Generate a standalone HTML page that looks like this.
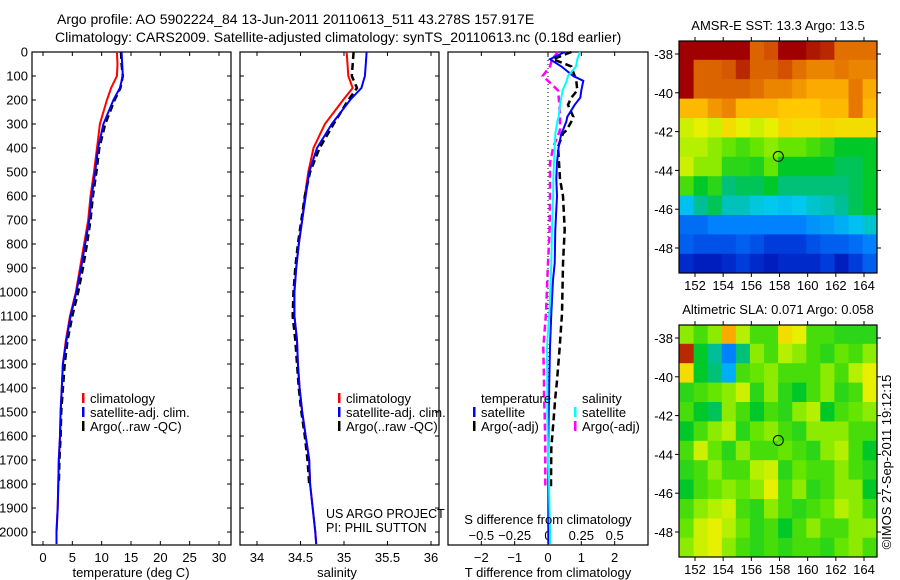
<!DOCTYPE html>
<html><head><meta charset="utf-8">
<style>
html,body{margin:0;padding:0;background:#fff;}
svg{display:block;font-family:"Liberation Sans",sans-serif;}
text{fill:#000;}
</style></head>
<body>
<svg id="fig" width="900" height="580" viewBox="0 0 900 580">
<text x="57" y="24" font-size="14">Argo profile: AO 5902224_84 13-Jun-2011 20110613_511 43.278S 157.917E</text>
<text x="55" y="42" font-size="14">Climatology: CARS2009. Satellite-adjusted climatology: synTS_20110613.nc (0.18d earlier)</text>
</svg>
<script>
// ---------------- data ----------------
const depths = [0,50,100,150,200,300,400,500,600,700,800,900,1000,1100,1200,1300,1400,1500,1600,1700,1800,1900,2000,2050];
const tempClim = [12.6,12.7,12.6,11.6,10.9,9.7,9.2,8.7,8.1,7.7,7.0,6.3,5.6,4.6,3.9,3.4,3.2,3.0,2.9,2.7,2.6,2.5,2.3,2.3];
const tempSat  = [13.4,13.5,13.6,13.1,12.0,10.3,9.4,8.9,8.3,7.9,7.2,6.5,5.7,4.7,4.0,3.4,3.2,3.0,2.9,2.7,2.6,2.5,2.3,2.3];
const tempArgo = [13.3,13.4,13.6,13.2,12.2,10.6,9.6,9.1,8.5,8.1,7.5,6.8,6.0,5.0,4.2,3.7,3.4,3.1,3.0,2.8,2.7];
const salClim = [35.03,35.04,35.05,35.10,34.99,34.78,34.65,34.59,34.55,34.52,34.48,34.45,34.43,34.43,34.46,34.47,34.49,34.52,34.56,34.60,34.61,34.64,34.67,34.68];
const salSat  = [35.26,35.25,35.24,35.20,35.07,34.86,34.69,34.60,34.56,34.52,34.48,34.45,34.43,34.43,34.46,34.47,34.49,34.52,34.56,34.60,34.61,34.64,34.67,34.68];
const salArgo = [35.11,35.10,35.09,35.15,35.05,34.88,34.72,34.61,34.55,34.51,34.47,34.44,34.42,34.41,34.44,34.46,34.48,34.51,34.55,34.58,34.60];
const diffDepths = [0,30,60,100,120,160,190,220,270,290,325,340,395,460,530,600,740,880,950,1090,1230,1370,1440,1510,1650,1790,1820,2000,2050];
const dTsat  = [0.50,0.06,0.40,0.76,1.06,1.00,0.97,0.80,0.58,0.55,0.45,0.40,0.32,0.27,0.25,0.27,0.22,0.20,0.15,0.10,0.06,0.04,0.03,0.02,0.01,0.01,0.01,0.01,0.01];
const dSsat  = [0.24,0.22,0.21,0.15,0.14,0.11,0.10,0.09,0.08,0.07,0.06,0.055,0.05,0.045,0.04,0.038,0.03,0.025,0.02,0.01,-0.008,-0.006,-0.005,-0.005,0.0,0.008,0.008,0.015,0.015];
const dTargo = [0.70,0.15,0.70,0.80,0.85,0.88,0.70,0.60,0.76,0.70,0.56,0.45,0.30,0.33,0.36,0.45,0.50,0.45,0.44,0.42,0.35,0.27,0.22,0.18,0.10,0.09,0.09];
const dSargo = [0.075,0.03,0.015,-0.04,0.0,0.075,0.08,0.085,0.09,0.09,0.09,0.08,0.04,0.015,0.015,0.015,0.012,0.0,-0.005,-0.015,-0.035,-0.03,-0.03,-0.025,-0.02,-0.02,-0.02];
const tempTicks = [0,5,10,15,20,25,30];
const salTicks = [34,34.5,35,35.5,36];
const depthTicks = [0,100,200,300,400,500,600,700,800,900,1000,1100,1200,1300,1400,1500,1600,1700,1800,1900,2000];
const tTicks = [-2,-1,0,1,2];
const sTicks = [-0.5,-0.25,0,0.25,0.5];
const sTickLabels = ["\u22120.5","\u22120.25","0","0.25","0.5"];
const tTickLabels = ["\u22122","\u22121","0","1","2"];
const lonTicks = [152,154,156,158,160,162,164];
const latTicks = [-38,-40,-42,-44,-46,-48];
const argoLon = 157.917, argoLat = -43.278;
const mapLons = [151,152,153,154,155,156,157,158,159,160,161,162,163,164];
const mapLats = [-37.3,-38.3,-39.3,-40.3,-41.3,-42.3,-43.3,-44.3,-45.3,-46.3,-47.3,-48.3];
const sstGrid = [
[1,1,1,1,1,0.85,0.9,1,1,0.97,0.95,0.82,0.82,0.82],
[1,0.85,0.85,0.88,0.95,0.85,0.85,0.9,0.82,0.78,0.78,0.8,0.78,0.78],
[1,0.85,0.85,0.85,0.85,0.82,0.78,0.78,0.75,0.72,0.72,0.72,0.8,0.72],
[0.7,0.7,0.75,0.78,0.7,0.7,0.7,0.68,0.68,0.68,0.7,0.7,0.8,0.7],
[0.6,0.62,0.6,0.65,0.62,0.6,0.62,0.66,0.65,0.65,0.66,0.65,0.65,0.65],
[0.58,0.58,0.55,0.52,0.5,0.52,0.55,0.52,0.52,0.5,0.48,0.45,0.45,0.45],
[0.6,0.55,0.55,0.48,0.48,0.47,0.52,0.45,0.45,0.45,0.45,0.42,0.42,0.45],
[0.5,0.45,0.48,0.4,0.42,0.42,0.45,0.4,0.4,0.4,0.4,0.4,0.42,0.45],
[0.32,0.38,0.42,0.36,0.36,0.34,0.33,0.32,0.33,0.35,0.36,0.38,0.42,0.45],
[0.22,0.22,0.25,0.25,0.25,0.25,0.25,0.25,0.25,0.27,0.28,0.3,0.32,0.35],
[0.2,0.18,0.18,0.18,0.2,0.18,0.15,0.15,0.15,0.18,0.2,0.2,0.22,0.25],
[0.12,0.1,0.1,0.12,0.15,0.12,0.1,0.12,0.12,0.12,0.15,0.1,0.15,0.2]];
const slaGrid = [
[0.55,0.5,0.55,0.72,0.58,0.5,0.5,0.65,0.62,0.5,0.5,0.48,0.48,0.48],
[0.95,0.45,0.38,0.25,0.4,0.55,0.5,0.58,0.55,0.5,0.48,0.52,0.5,0.55],
[0.65,0.45,0.4,0.3,0.5,0.52,0.55,0.5,0.5,0.5,0.55,0.5,0.58,0.62],
[0.48,0.5,0.52,0.55,0.6,0.48,0.55,0.48,0.45,0.5,0.55,0.48,0.5,0.62],
[0.5,0.45,0.42,0.55,0.5,0.45,0.5,0.48,0.55,0.58,0.45,0.5,0.52,0.55],
[0.45,0.5,0.55,0.58,0.48,0.52,0.55,0.5,0.48,0.55,0.55,0.55,0.5,0.5],
[0.5,0.6,0.52,0.48,0.55,0.5,0.5,0.52,0.5,0.48,0.55,0.58,0.5,0.45],
[0.48,0.5,0.55,0.5,0.5,0.58,0.6,0.48,0.52,0.5,0.5,0.55,0.5,0.48],
[0.45,0.5,0.52,0.55,0.52,0.55,0.62,0.5,0.55,0.48,0.5,0.55,0.55,0.45],
[0.5,0.55,0.58,0.6,0.5,0.48,0.55,0.5,0.48,0.5,0.52,0.58,0.55,0.5],
[0.52,0.6,0.62,0.58,0.52,0.48,0.5,0.45,0.5,0.55,0.5,0.5,0.55,0.55],
[0.55,0.6,0.62,0.55,0.5,0.48,0.5,0.48,0.5,0.5,0.48,0.52,0.55,0.5]];

// ---------------- helpers ----------------
const NS = "http://www.w3.org/2000/svg";
const svg = document.getElementById("fig");
function mk(tag, attrs, parent){ const e=document.createElementNS(NS,tag); for(const k in attrs) e.setAttribute(k,attrs[k]); (parent||svg).appendChild(e); return e; }
function txt(x,y,s,size,anchor,parent){ const t=mk("text",{x:x,y:y,"font-size":size,"text-anchor":anchor||"start"},parent); t.textContent=s; return t; }
function lin(d0,d1,p0,p1){ return v=>p0+(v-d0)*(p1-p0)/(d1-d0); }

const pTop=52, pBot=545;
const yD = lin(0,2054,pTop,pBot);

function frame(x0,x1,name){
  const g=mk("g",{});
  
  
  mk("rect",{x:x0,y:pTop,width:x1-x0,height:pBot-pTop,fill:"#fff",stroke:"#000","stroke-width":1.2},g);
  return g;
}
function depthTicksOn(g,x0,x1,labels){
  depthTicks.forEach(d=>{ const y=yD(d);
    mk("line",{x1:x0,y1:y,x2:x0+4,y2:y,stroke:"#000"},g);
    mk("line",{x1:x1,y1:y,x2:x1-4,y2:y,stroke:"#000"},g);
    if(labels){ const t=txt(x0-4,y+4.5,String(d),13,"end",g);
        }
  });
}
function path(g,xs,ys,xf,color,w,dash,name){
  let d=""; xs.forEach((v,i)=>{ d+=(i?"L":"M")+xf(v).toFixed(1)+","+yD(ys[i]).toFixed(1); });
  const p=mk("path",{d:d,fill:"none",stroke:color,"stroke-width":w,"stroke-dasharray":dash||"none"},g);
  
  
  return p;
}
function legend(g,x,y,color,label,name){
  mk("rect",{x:x,y:y-10,width:2.5,height:10,fill:color},g);
  const t=txt(x+8,y,label,13,"start",g);
  
  
}

// ---------------- panel 1: temperature ----------------
const xT = lin(0,30,43,219);
const g1 = frame(32,231,"temperature-panel");
depthTicksOn(g1,32,231,true);
tempTicks.forEach(v=>{ const x=xT(v);
  mk("line",{x1:x,y1:pTop,x2:x,y2:pTop+4,stroke:"#000"},g1);
  mk("line",{x1:x,y1:pBot,x2:x,y2:pBot-4,stroke:"#000"},g1);
  const t=txt(x,562,String(v),13,"middle",g1);  
});
path(g1,tempClim,depths,xT,"#f00",2,null,"temp-climatology-line");
path(g1,tempArgo,depths.slice(0,tempArgo.length),xT,"#000",2.5,"7 4","temp-argo-line");
path(g1,tempSat,depths,xT,"#00f",2,null,"temp-satellite-line");
legend(g1,82,403,"#f00","climatology","legend-climatology");
legend(g1,82,417,"#00f","satellite-adj. clim.","legend-satellite");
legend(g1,82,431,"#000","Argo(..raw -QC)","legend-argo");
{const t=txt(131,577,"temperature (deg C)",13,"middle",g1);  }

// ---------------- panel 2: salinity ----------------
const xS = lin(34,36,257,431);
const g2 = frame(240,439,"salinity-panel");
depthTicksOn(g2,240,439,false);
salTicks.forEach(v=>{ const x=xS(v);
  mk("line",{x1:x,y1:pTop,x2:x,y2:pTop+4,stroke:"#000"},g2);
  mk("line",{x1:x,y1:pBot,x2:x,y2:pBot-4,stroke:"#000"},g2);
  const t=txt(x,562,String(v),13,"middle",g2);  
});
path(g2,salClim,depths,xS,"#f00",2,null,"sal-climatology-line");
path(g2,salArgo,depths.slice(0,salArgo.length),xS,"#000",2.5,"7 4","sal-argo-line");
path(g2,salSat,depths,xS,"#00f",2,null,"sal-satellite-line");
legend(g2,338,403,"#f00","climatology","legend-climatology");
legend(g2,338,417,"#00f","satellite-adj. clim.","legend-satellite");
legend(g2,338,431,"#000","Argo(..raw -QC)","legend-argo");
{const t=txt(326,518,"US ARGO PROJECT",12.5,"start",g2);  }
{const t=txt(326,532,"PI: PHIL SUTTON",12.5,"start",g2);  }
{const t=txt(337,577,"salinity",13,"middle",g2);  }

// ---------------- panel 3: differences ----------------
const xDT = lin(-3,3,448,648);
const xDS = v=>xDT(v*4);
const g3 = frame(448,648,"difference-panel");
tTicks.forEach((v,i)=>{ const x=xDT(v);
  mk("line",{x1:x,y1:pTop,x2:x,y2:pTop+4,stroke:"#000"},g3);
  mk("line",{x1:x,y1:pBot,x2:x,y2:pBot-4,stroke:"#000"},g3);
  const t=txt(x,562,tTickLabels[i],13,"middle",g3);  
});
sTicks.forEach((v,i)=>{ const t=txt(xDS(v),540,sTickLabels[i],13,"middle",g3);   });
mk("line",{x1:xDT(0),y1:pTop,x2:xDT(0),y2:pBot,stroke:"#000","stroke-width":1,"stroke-dasharray":"1 3"},g3);
path(g3,dSargo,diffDepths.slice(0,dSargo.length),xDS,"#f0f",2.5,"7 4","sal-argo-diff-line");
path(g3,dTargo,diffDepths.slice(0,dTargo.length),xDT,"#000",2.5,"7 4","temp-argo-diff-line");
path(g3,dTsat,diffDepths,xDT,"#00f",2,null,"temp-satellite-diff-line");
path(g3,dSsat,diffDepths,xDS,"#0ff",2,null,"sal-satellite-diff-line");
{const t=txt(481,403,"temperature",13,"start",g3);  }
{const t=txt(582,403,"salinity",13,"start",g3);  }
legend(g3,473,417,"#00f","satellite","legend-temp-satellite");
legend(g3,473,431,"#000","Argo(-adj)","legend-temp-argo");
legend(g3,574,417,"#0ff","satellite","legend-sal-satellite");
legend(g3,574,431,"#f0f","Argo(-adj)","legend-sal-argo");
{const t=txt(548,524,"S difference from climatology",13,"middle",g3);  }
{const t=txt(548,577,"T difference from climatology",13,"middle",g3);  }

// ---------------- maps ----------------
const cmapStops = [[0.0,[0,0,140]],[0.05,[0,0,160]],[0.15,[0,60,220]],[0.25,[0,130,255]],[0.33,[0,200,240]],[0.38,[0,190,150]],[0.45,[0,200,40]],[0.52,[100,230,0]],[0.58,[180,240,0]],[0.62,[230,240,0]],[0.68,[255,200,0]],[0.72,[250,170,0]],[0.8,[230,120,0]],[0.9,[210,80,0]],[1.0,[160,0,0]]];
function cmap(v){
  v=Math.max(0,Math.min(1,v));
  for(let i=1;i<cmapStops.length;i++){
    const a=cmapStops[i-1], b=cmapStops[i];
    if(v<=b[0]){ const f=(v-a[0])/(b[0]-a[0]);
      return "rgb("+[0,1,2].map(k=>Math.round(a[1][k]+(b[1][k]-a[1][k])*f)).join(",")+")"; }
  }
  return "rgb(160,0,0)";
}
function drawMap(mx0,mx1,my0,my1,grid,title,name){
  const xL=lin(152,164,695,864), yL=lin(-38,-48,my0+13,my0+207);
  const g=mk("g",{});
  
  
  const clip="clip-"+name;
  const cp=mk("clipPath",{id:clip},g); mk("rect",{x:mx0,y:my0,width:mx1-mx0,height:my1-my0},cp);
  const cg=mk("g",{"clip-path":"url(#"+clip+")"},g);
  grid.forEach((row,r)=>row.forEach((v,c)=>{
    const x0=xL(mapLons[c]-0.1), x1=xL(mapLons[c]+0.9);
    const y0=yL(mapLats[r]), y1=yL(mapLats[r]-1);
    const cell=mk("rect",{x:x0.toFixed(1),y:y0.toFixed(1),width:(x1-x0+0.6).toFixed(1),height:(y1-y0+0.6).toFixed(1),fill:cmap(v)},cg);
    
    
  }));
  mk("rect",{x:mx0,y:my0,width:mx1-mx0,height:my1-my0,fill:"none",stroke:"#000","stroke-width":1.2},g);
  lonTicks.forEach(v=>{ const x=xL(v);
    mk("line",{x1:x,y1:my0,x2:x,y2:my0-4,stroke:"#000"},g);
    mk("line",{x1:x,y1:my1,x2:x,y2:my1+4,stroke:"#000"},g);
    const t=txt(x,my1+17,String(v),13,"middle",g);  
  });
  latTicks.forEach(v=>{ const y=yL(v);
    mk("line",{x1:mx0,y1:y,x2:mx0-4,y2:y,stroke:"#000"},g);
    mk("line",{x1:mx1,y1:y,x2:mx1+4,y2:y,stroke:"#000"},g);
    const t=txt(mx0-6,y+5,String(v),13,"end",g);  
  });
  const c=mk("circle",{cx:xL(argoLon),cy:yL(argoLat),r:5,fill:"none",stroke:"#000","stroke-width":1},g);
  
  
  const t=txt((mx0+mx1)/2,my0-11,title,13,"middle",g);
  
  
}
drawMap(679,877,41,273,sstGrid,"AMSR-E SST: 13.3 Argo: 13.5","sst-map");
drawMap(679,877,325,557,slaGrid,"Altimetric SLA: 0.071 Argo: 0.058","sla-map");
{const t=txt(0,0,"\u00A9IMOS 27-Sep-2011 19:12:15",13,"middle");
 t.setAttribute("transform","translate(891,462) rotate(-90)");
  }
</script>
</body></html>
